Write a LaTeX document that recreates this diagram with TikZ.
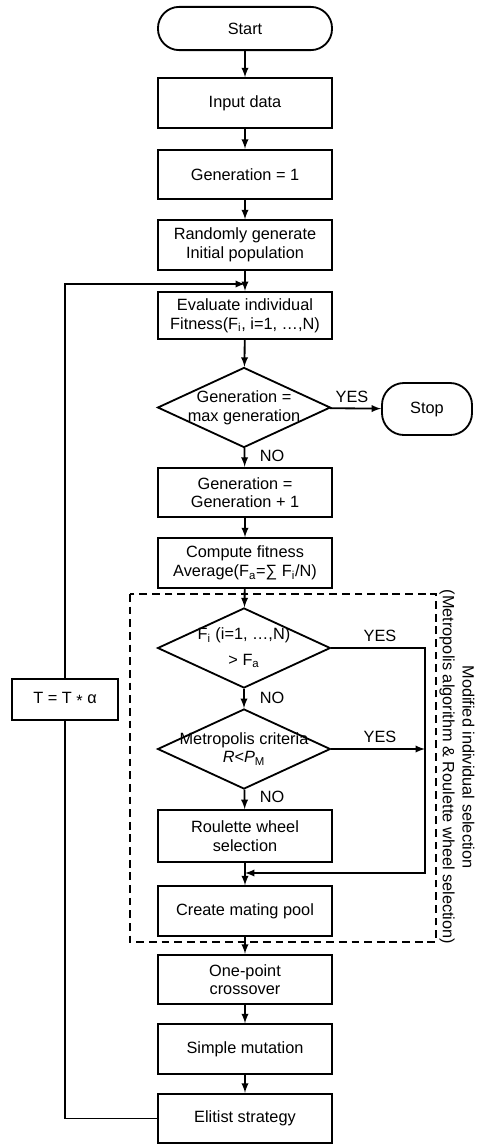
\documentclass[tikz,border=0pt]{standalone}
\usepackage{fontspec}
\setmainfont{Liberation Sans}
\usepackage{tikz}
\usetikzlibrary{arrows,shapes.geometric,positioning}
\tikzset{
  procbox/.style={draw, line width=1.3pt, minimum width=4.35cm, minimum height=1.24cm, align=center, inner sep=1pt},
  termbox/.style={draw, line width=1.3pt, rounded corners=0.53cm, minimum width=4.35cm, minimum height=1.08cm},
  decbox/.style={draw, diamond, line width=1.3pt, minimum width=4.32cm, minimum height=2cm, inner sep=0pt},
  flow/.style={line width=1.3pt, -latex},
  tag/.style={inner sep=1pt}
}
\begin{document}
\begin{tikzpicture}[x=0.025cm, y=-0.025cm, font=\fontsize{11.6}{13.2}\selectfont]
\useasboundingbox (0,0) rectangle (478,1145);
\node[termbox] (start) at (245,28.5) {Start};
\node[procbox] (input) at (245,103) {Input data};
\node[procbox] (gen1) at (245,174.5) {Generation = 1};
\node[procbox] (rand) at (245,245) {Randomly generate\\Initial population};
\node[procbox, minimum height=1.18cm] (eval) at (245,315.5) {Evaluate individual\\Fitness(F\textsubscript{i}, i=1, \dots,N)};
\node[decbox, label={[align=center]center:Generation =\\max generation}] (d1) at (244,407.5) {};
\node[termbox, minimum width=2.25cm, minimum height=1.3cm, rounded corners=0.55cm] (stop) at (427,409) {Stop};
\node[procbox] (geninc) at (245,492.5) {Generation =\\Generation + 1};
\node[procbox] (comp) at (245,563) {Compute fitness\\Average(F\textsubscript{a}=∑ F\textsubscript{i}/N)};
\node[decbox, label={[align=center]center:F\textsubscript{i} (i=1, \dots,N)\\[5pt]> F\textsubscript{a}}] (d2) at (244,648) {};
\node[decbox, label={[align=center]center:Metropolis criteria\\\textit{R}<\textit{P}\textsubscript{M}}] (d3) at (244,749) {};
\node[procbox, minimum height=1.3cm] (roul) at (245,836) {Roulette wheel\\selection};
\node[procbox] (mate) at (245,911) {Create mating pool};
\node[procbox] (cross) at (245,979.5) {One-point\\crossover};
\node[procbox] (mut) at (245,1049) {Simple mutation};
\node[procbox] (elit) at (245,1118.5) {Elitist strategy};
\node[procbox, minimum width=2.65cm, minimum height=1.03cm] (talpha) at (65,699.5) {T = T \raisebox{-.35ex}{*} α};
\coordinate (join) at (245,284);
\coordinate (ybot) at (425,873);
\coordinate (mjoin) at (245,873);
\draw[flow] (start) -- (input);
\draw[flow] (input) -- (gen1);
\draw[flow] (gen1) -- (rand);
\draw[flow] (rand) -- (eval);
\draw[flow] (eval) -- (d1);
\draw[flow] (d1) -- (stop);
\draw[flow] (d1) -- (geninc);
\draw[flow] (geninc) -- (comp);
\draw[flow] (comp) -- (d2);
\draw[flow] (d2) -- (d3);
\draw[flow] (d3) -- (roul);
\draw[flow] (roul) -- (mate);
\draw[flow] (mate) -- (cross);
\draw[flow] (cross) -- (mut);
\draw[flow] (mut) -- (elit);
\draw[flow] (d2.east) -| (ybot) -- (mjoin);
\draw[flow] (d3.east) -- (d3.east -| ybot);
\draw[line width=1.3pt] (elit.west) -| (talpha.south);
\draw[flow] (talpha.north) |- (join);
\draw[line width=1.3pt, dash pattern=on 5.5pt off 3.5pt] (130,594) rectangle (436,942);
\node[tag] at (352,397) {YES};
\node[tag] at (272,456) {NO};
\node[tag] at (380,636) {YES};
\node[tag] at (272,698) {NO};
\node[tag] at (380,737) {YES};
\node[tag] at (272,797) {NO};
\node[rotate=-90, align=center, font=\fontsize{11.6}{14}\selectfont] (sellabel) at (457,767) {Modified individual selection\\(Metropolis algorithm \& Roulette wheel selection)};
\end{tikzpicture}
\end{document}
